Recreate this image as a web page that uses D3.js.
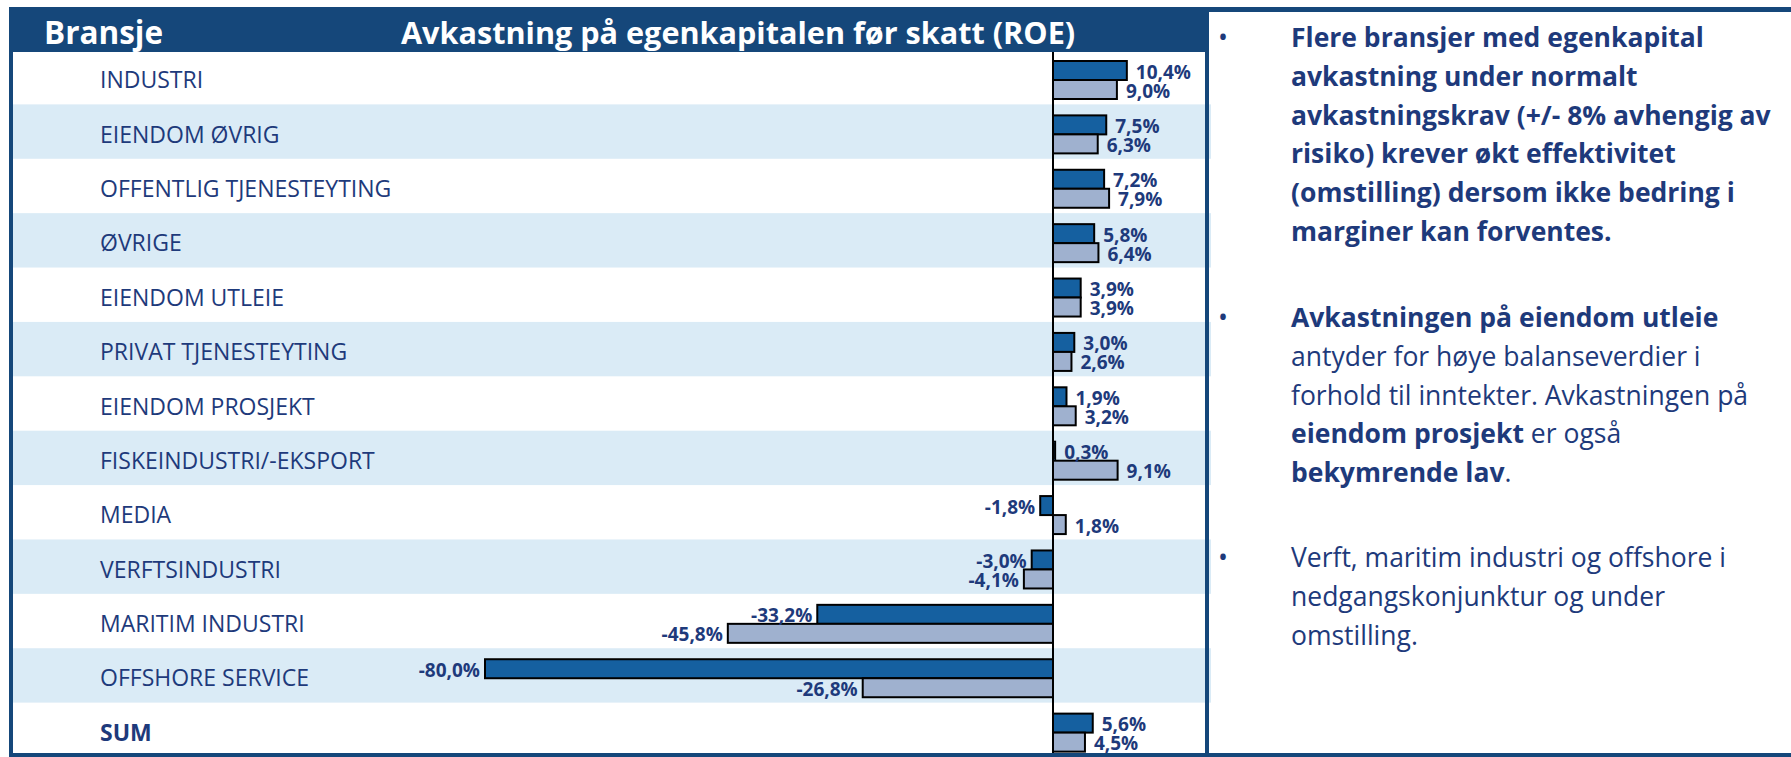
<!DOCTYPE html>
<html>
<head>
<meta charset="utf-8">
<script src="https://cdn.jsdelivr.net/npm/d3@7"></script>
<style>
  body { margin: 0; background: #fff; }
  svg { display: block; font-family: 'Open Sans', sans-serif; }
</style>
</head>
<body>
<svg id="chart" width="1791" height="757"></svg>
<script>
const categories = [
  'INDUSTRI', 'EIENDOM ØVRIG', 'OFFENTLIG TJENESTEYTING', 'ØVRIGE', 'EIENDOM UTLEIE',
  'PRIVAT TJENESTEYTING', 'EIENDOM PROSJEKT', 'FISKEINDUSTRI/-EKSPORT', 'MEDIA',
  'VERFTSINDUSTRI', 'MARITIM INDUSTRI', 'OFFSHORE SERVICE', 'SUM'
];
const roeNow = [10.4, 7.5, 7.2, 5.8, 3.9, 3.0, 1.9, 0.3, -1.8, -3.0, -33.2, -80.0, 5.6];
const roePrev = [9.0, 6.3, 7.9, 6.4, 3.9, 2.6, 3.2, 9.1, 1.8, -4.1, -45.8, -26.8, 4.5];
const headers = ['Bransje', 'Avkastning på egenkapitalen før skatt (ROE)'];

// right-hand comment box, one entry per line: [text, bold]
const notes = [
  [[['Flere bransjer med egenkapital', true]],
   [['avkastning under normalt', true]],
   [['avkastningskrav (+/- 8% avhengig av', true]],
   [['risiko) krever økt effektivitet', true]],
   [['(omstilling) dersom ikke bedring i', true]],
   [['marginer kan forventes.', true]]],
  [[['Avkastningen på eiendom utleie', true]],
   [['antyder for høye balanseverdier i', false]],
   [['forhold til inntekter. Avkastningen på', false]],
   [['eiendom prosjekt', true], [' er også', false]],
   [['bekymrende lav', true], ['.', false]]],
  [[['Verft, maritim industri og offshore i', false]],
   [['nedgangskonjunktur og under', false]],
   [['omstilling.', false]]]
];

const navy = '#1e3a7b';
const frame = '#15477a';
const colors = ['#1560a0', '#9fb1cf'];

const svg = d3.select('#chart');
const nb = d3.formatLocale({ decimal: ',', thousands: ' ', grouping: [3], currency: ['', ''], minus: '-' });
const fmt = v => nb.format('.1f')(v) + '%';

const y = d3.scaleBand().domain(categories).range([50, 757]);
const ySeries = d3.scaleBand().domain([0, 1]).range([11, 49]);
const x = d3.scaleLinear().domain([-80, 10]).range([485, 1124]);

// striped rows
svg.append('g').selectAll('rect')
  .data(categories.filter((c, i) => i % 2 === 1))
  .join('rect')
    .attr('x', 13)
    .attr('y', d => y(d))
    .attr('width', 1198)
    .attr('height', y.bandwidth())
    .attr('fill', '#daebf6');

// header band
svg.append('rect').attr('x', 9).attr('y', 7).attr('width', 1198).attr('height', 45).attr('fill', frame);
svg.append('text').attr('x', 44).attr('y', 44).attr('fill', '#fff')
  .attr('font-size', 31.5).attr('font-weight', 700).text(headers[0]);
svg.append('text').attr('x', 401).attr('y', 44).attr('fill', '#fff')
  .attr('font-size', 30.6).attr('font-weight', 700).text(headers[1]);

// category labels
svg.append('g').selectAll('text')
  .data(categories)
  .join('text')
    .attr('x', 100)
    .attr('y', d => y(d) + y.bandwidth() / 2 + 11)
    .attr('fill', navy)
    .attr('font-size', 23)
    .attr('font-weight', d => d === 'SUM' ? 700 : 400)
    .text(d => d);

// bars
const rows = categories.map((c, i) => ({ c, values: [roeNow[i], roePrev[i]] }));
const groups = svg.append('g').selectAll('g')
  .data(rows)
  .join('g')
    .attr('transform', d => `translate(0, ${y(d.c)})`);

groups.selectAll('rect')
  .data(d => d.values.map((v, k) => ({ v, k })))
  .join('rect')
    .attr('x', d => Math.min(x(0), x(d.v)))
    .attr('y', d => ySeries(d.k))
    .attr('width', d => Math.abs(x(d.v) - x(0)))
    .attr('height', ySeries.bandwidth())
    .attr('fill', d => colors[d.k])
    .attr('stroke', '#000')
    .attr('stroke-width', 2);

groups.selectAll('text')
  .data(d => d.values.map((v, k) => ({ v, k })))
  .join('text')
    .attr('x', d => d.v >= 0 ? x(d.v) + 9 : x(d.v) - 5)
    .attr('y', d => ySeries(d.k) + ySeries.bandwidth() / 2 + 8)
    .attr('text-anchor', d => d.v >= 0 ? 'start' : 'end')
    .attr('fill', navy)
    .attr('font-size', 19)
    .attr('font-weight', 700)
    .text(d => fmt(d.v));

// zero line
svg.append('line')
  .attr('x1', x(0)).attr('x2', x(0))
  .attr('y1', 52).attr('y2', 753)
  .attr('stroke', '#000').attr('stroke-width', 2);

// frame lines
svg.append('rect').attr('x', 9).attr('y', 7).attr('width', 4).attr('height', 750).attr('fill', frame);
svg.append('rect').attr('x', 9).attr('y', 753).attr('width', 1782).attr('height', 4).attr('fill', frame);
svg.append('rect').attr('x', 1205).attr('y', 7).attr('width', 4).attr('height', 750).attr('fill', frame);
svg.append('rect').attr('x', 1205).attr('y', 7).attr('width', 586).attr('height', 5).attr('fill', frame);

// comment box
const lineH = 38.8;
const paraTop = [47, 327, 567];
const box = svg.append('g').attr('fill', navy).attr('font-size', 26.5);
notes.forEach((para, p) => {
  box.append('text').attr('x', 1218).attr('y', paraTop[p]).text('•');
  para.forEach((line, l) => {
    const t = box.append('text').attr('x', 1291).attr('y', paraTop[p] + l * lineH);
    line.forEach(([s, b]) => t.append('tspan').attr('font-weight', b ? 700 : 400).text(s));
  });
});
</script>
</body>
</html>
